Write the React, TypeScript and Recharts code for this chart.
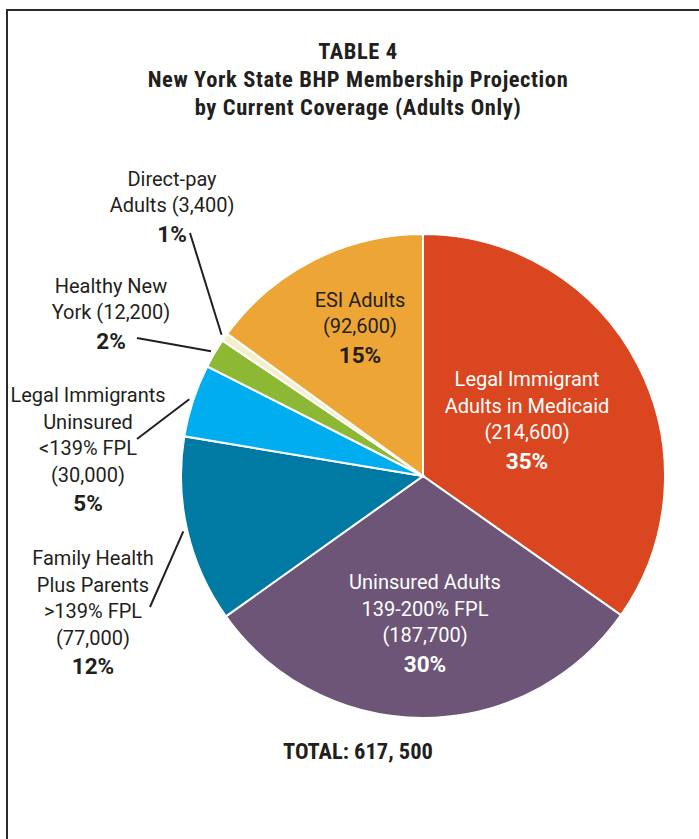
import { PieChart, Pie, Cell } from "recharts";

const categories = [
  "Legal Immigrant\nAdults in Medicaid",
  "Uninsured Adults\n139-200% FPL",
  "Family Health\nPlus Parents\n>139% FPL",
  "Legal Immigrants\nUninsured\n<139% FPL",
  "Healthy New\nYork",
  "Direct-pay\nAdults",
  "ESI Adults",
];
const members = [214600, 187700, 77000, 30000, 12200, 3400, 92600];
const colors = ["#d9461f", "#6c5577", "#0079a3", "#00aeef", "#8cb833", "#f3eecb", "#eda535"];
const titleLines = ["TABLE 4", "New York State BHP Membership Projection", "by Current Coverage (Adults Only)"];
const totalLabel = "TOTAL: 617, 500";

const data = categories.map((name, i) => ({ name, value: members[i] }));

// label placement, offsets from the pie centre
const labelLayout = [
  { dx: 104, dy: -56, fill: "#fff" },
  { dx: 2, dy: 147, fill: "#fff" },
  { dx: -330, dy: 136, fill: "#231f20", line: [-273, 131] },
  { dx: -335, dy: -27, fill: "#231f20", line: [-286, -37] },
  { dx: -312, dy: -163, fill: "#231f20", line: [-286, -138], inline: true },
  { dx: -251, dy: -270, fill: "#231f20", line: [-233, -243], inline: true },
  { dx: -63, dy: -149, fill: "#231f20" },
];

const RAD = Math.PI / 180;
const FONT = "Roboto, 'Liberation Sans', sans-serif";

function renderLabel(props: any) {
  const { cx, cy, midAngle, outerRadius, index, value, percent } = props;
  const lay = labelLayout[index];
  const valueText = `(${value.toLocaleString("en-US")})`;
  const lines = categories[index].split("\n");
  if (lay.inline) lines[lines.length - 1] += " " + valueText;
  else lines.push(valueText);
  const pct = `${Math.round(percent * 100)}%`;
  const lh = 26.5;
  const n = lines.length + 1;
  const x = cx + lay.dx;
  const top = cy + lay.dy - ((n - 1) * lh) / 2 - 1;
  let leader = null;
  if (lay.line) {
    const r = outerRadius + 4;
    const sx = cx + r * Math.cos(-midAngle * RAD);
    const sy = cy + r * Math.sin(-midAngle * RAD);
    leader = <line x1={sx} y1={sy} x2={cx + lay.line[0]} y2={cy + lay.line[1]} stroke="#231f20" strokeWidth={2} />;
  }
  return (
    <g key={`lbl-${index}`}>
      {leader}
      {lines.map((t, i) => (
        <text key={i} x={x} y={top + i * lh} textAnchor="middle" dominantBaseline="central"
          fill={lay.fill} fontFamily={FONT} fontSize={20}>
          {t}
        </text>
      ))}
      <text x={x} y={top + lines.length * lh + 2} textAnchor="middle" dominantBaseline="central"
        fill={lay.fill} fontFamily={FONT} fontSize={22.5} fontWeight={700}>
        {pct}
      </text>
    </g>
  );
}

const titleStyle: React.CSSProperties = {
  position: "absolute",
  left: 0,
  width: 716,
  textAlign: "center",
  fontFamily: "'Liberation Sans Narrow', 'Roboto Condensed', 'DejaVu Sans Condensed', sans-serif",
  fontWeight: 700,
  fontSize: 22.5,
  letterSpacing: 0.6,
  color: "#231f20",
  lineHeight: "28px",
  whiteSpace: "nowrap",
};

export default function App() {
  return (
    <div style={{ position: "absolute", left: 0, top: 0, width: 699, height: 839, background: "#fff" }}>
      <div style={{ position: "absolute", left: 6, top: 9, width: 2, height: 830, background: "#2b2b2b" }} />
      <div style={{ position: "absolute", left: 6, top: 9, width: 693, height: 2, background: "#2b2b2b" }} />
      <div style={{ ...titleStyle, top: 37 }}>
        {titleLines.map((t) => (
          <div key={t}>{t}</div>
        ))}
      </div>
      <div style={{ ...titleStyle, top: 737, letterSpacing: 0 }}>{totalLabel}</div>
      <PieChart
        width={699}
        height={839}
        margin={{ top: 0, right: 0, bottom: 0, left: 0 }}
        style={{ position: "absolute", left: 0, top: 0 }}
      >
        <Pie
          data={data}
          dataKey="value"
          nameKey="name"
          cx={423}
          cy={476}
          outerRadius={242}
          startAngle={90}
          endAngle={-270}
          stroke="#fff"
          strokeWidth={2}
          label={renderLabel}
          labelLine={false}
          isAnimationActive={false}
        >
          {data.map((d, i) => (
            <Cell key={d.name} fill={colors[i]} />
          ))}
        </Pie>
      </PieChart>
    </div>
  );
}
